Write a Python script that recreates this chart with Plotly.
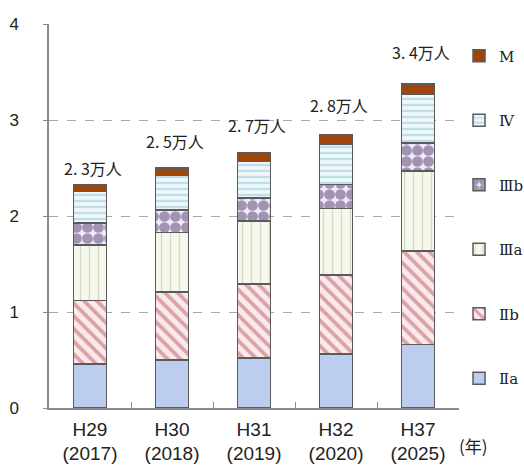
import plotly.graph_objects as go

# ---- data ----
categories = ["H29<br>(2017)", "H30<br>(2018)", "H31<br>(2019)", "H32<br>(2020)", "H37<br>(2025)"]
series_names = ["Ⅱa", "Ⅱb", "Ⅲa", "Ⅲb", "Ⅳ", "M"]
s_IIa = [0.46, 0.50, 0.52, 0.56, 0.66]
s_IIb = [0.66, 0.71, 0.77, 0.825, 0.975]
s_IIIa = [0.58, 0.62, 0.66, 0.695, 0.835]
s_IIIb = [0.225, 0.23, 0.235, 0.25, 0.29]
s_IV = [0.33, 0.36, 0.385, 0.42, 0.505]
s_M = [0.07, 0.08, 0.09, 0.10, 0.11]
total_labels = ["2. 3万人", "2. 5万人", "2. 7万人", "2. 8万人", "3. 4万人"]
y_ticks = [0, 1, 2, 3, 4]

# ---- styles ----
label_shift_px = [17, 27, 28, 29, 32]
series_values = [s_IIa, s_IIb, s_IIIa, s_IIIb, s_IV, s_M]
styles = [
    dict(color="#bccdef"),
    dict(color="#fbeaea", pattern=dict(shape="\\", fgcolor="#b9586c", bgcolor="#fbeaea", size=9, solidity=0.42)),
    dict(color="#f6f8ec", pattern=dict(shape="|", fgcolor="#b0b7a8", bgcolor="#f6f8ec", size=9, solidity=0.15)),
    dict(color="#f1e8fb", pattern=dict(shape=".", fgcolor="#4d3f6a", bgcolor="#f3e8fb", size=11, solidity=0.75)),
    dict(color="#eef8fb", pattern=dict(shape="-", fgcolor="#93c3d6", bgcolor="#eef8fb", size=6, solidity=0.4)),
    dict(color="#a0460a"),
]

JP = "Noto Sans CJK JP"
SANS = "Liberation Sans, Arial"
fig = go.Figure()
for i, (name, vals, st) in enumerate(zip(series_names, series_values, styles)):
    marker = dict(line=dict(color="#5a5a5a", width=1.5), **st)
    fig.add_trace(go.Bar(
        x=categories, y=vals, name=name, marker=marker, width=0.405,
        legendgroup=f"g{i}", legendrank=100 - i,
    ))

totals = [sum(v) for v in zip(*series_values)]
for cat, tot, lab, sh in zip(categories, totals, total_labels, label_shift_px):
    fig.add_annotation(x=cat, y=tot, text=lab, showarrow=False, yanchor="middle",
                       yshift=sh, xshift=3, font=dict(family=JP, size=16, color="#222"))

fig.add_annotation(xref="paper", yref="paper", x=1.035, y=-0.098, text="(年)",
                   showarrow=False, xanchor="center", yanchor="middle",
                   font=dict(family=JP, size=17, color="#222"))

fig.update_layout(
    barmode="stack",
    width=524, height=465,
    margin=dict(l=49, r=57, t=24, b=57),
    plot_bgcolor="white", paper_bgcolor="white",
    showlegend=True,
    legend=dict(
        xref="container", yref="container", x=0.876, y=0.915, xanchor="left", yanchor="top",
        traceorder="grouped", tracegroupgap=42, maxheight=1,
        font=dict(family="DejaVu Serif", size=15, color="#222"),
        bgcolor="rgba(0,0,0,0)",
    ),
    xaxis=dict(
        type="category", range=[-0.5, 4.5], automargin=False,
        showline=True, linecolor="#8a8a8a", linewidth=1.5,
        ticks="inside", tickson="boundaries", ticklen=6, tickcolor="#8a8a8a",
        ticklabelstandoff=3,
        tickfont=dict(family=SANS, size=19, color="#222"),
        showgrid=False, fixedrange=True,
    ),
    yaxis=dict(
        range=[0, 4], tickvals=y_ticks, ticktext=[str(t) for t in y_ticks],
        automargin=False,
        showline=True, linecolor="#8a8a8a", linewidth=1.5,
        ticks="outside", ticklen=4, tickcolor="#8a8a8a",
        ticklabelstandoff=21,
        tickfont=dict(family=SANS, size=17, color="#222"),
        showgrid=True, gridcolor="#a8a8a8", griddash="dash", gridwidth=1,
        zeroline=False,
    ),
)

fig.write_html("out.html", config={"displayModeBar": False},
               post_script="document.body.style.margin='0';")
